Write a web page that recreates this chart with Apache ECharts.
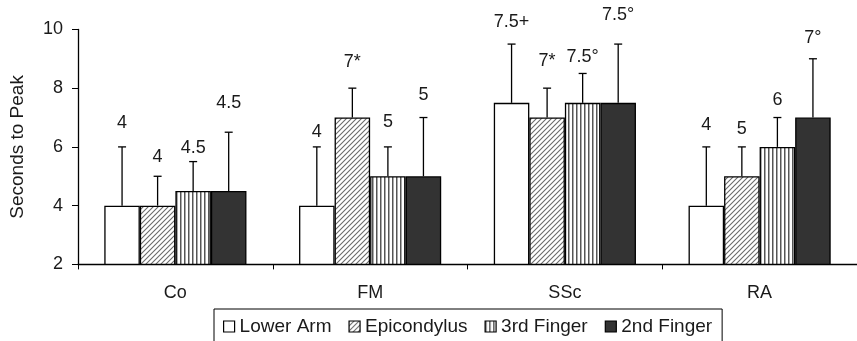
<!DOCTYPE html>
<html><head><meta charset="utf-8">
<script src="https://cdn.jsdelivr.net/npm/echarts@6/dist/echarts.min.js"></script>
<style>html,body{margin:0;padding:0;background:#fff}#c{width:857px;height:341px}</style>
</head><body><div id="c"></div>
<script>
const categories = ['Co', 'FM', 'SSc', 'RA'];
const seriesNames = ['Lower Arm', 'Epicondylus', '3rd Finger', '2nd Finger'];
const lowerArm = [4, 4, 7.5, 4];
const epicondylus = [4, 7, 7, 5];
const thirdFinger = [4.5, 5, 7.5, 6];
const secondFinger = [4.5, 5, 7.5, 7];
const lowerArmErrTop = [6, 6, 9.5, 6];
const epicondylusErrTop = [5, 8, 8, 6];
const thirdFingerErrTop = [5.5, 6, 8.5, 7];
const secondFingerErrTop = [6.5, 7, 9.5, 9];
const lowerArmLabels = ['4', '4', '7.5+', '4'];
const epicondylusLabels = ['4', '7*', '7*', '5'];
const thirdFingerLabels = ['4.5', '5', '7.5°', '6'];
const secondFingerLabels = ['4.5', '5', '7.5°', '7°'];
const lowerArmLabelAt = [6.8, 6.5, 10.25, 6.73];
const epicondylusLabelAt = [5.64, 8.89, 8.94, 6.62];
const thirdFingerLabelAt = [5.95, 6.84, 9.06, 7.58];
const secondFingerLabelAt = [7.48, 7.75, 10.48, 9.69];
const yMin = 2, yMax = 10, yInterval = 2;

const FONT = 'Liberation Sans, Arial, sans-serif';
const GAP = 0.27;
const TXT = '#1a1a1a';

function tile(kind) {
  const c = document.createElement('canvas');
  const g = c.getContext('2d');
  if (kind === 'diag') {
    c.width = 5; c.height = 5;
    g.fillStyle = '#fff'; g.fillRect(0, 0, 5, 5);
    g.strokeStyle = '#6a6a6a'; g.lineWidth = 1.1;
    g.beginPath();
    g.moveTo(-1, 6); g.lineTo(6, -1);
    g.moveTo(-1, 1); g.lineTo(1, -1);
    g.moveTo(4, 6); g.lineTo(6, 4);
    g.stroke();
  } else {
    c.width = 4; c.height = 4;
    g.fillStyle = '#fff'; g.fillRect(0, 0, 4, 4);
    g.fillStyle = '#555'; g.fillRect(0, 0, 1, 4);
    g.fillStyle = '#aaa'; g.fillRect(1, 0, 1, 4);
  }
  return c;
}
const fills = ['#ffffff', { image: tile('diag'), repeat: 'repeat' }, { image: tile('vert'), repeat: 'repeat' }, '#333333'];
const values = [lowerArm, epicondylus, thirdFinger, secondFinger];
const tops = [lowerArmErrTop, epicondylusErrTop, thirdFingerErrTop, secondFingerErrTop];
const texts = [lowerArmLabels, epicondylusLabels, thirdFingerLabels, secondFingerLabels];
const ats = [lowerArmLabelAt, epicondylusLabelAt, thirdFingerLabelAt, secondFingerLabelAt];

const series = [];
seriesNames.forEach((n, s) => {
  series.push({
    type: 'bar', name: n, data: values[s], barGap: '0%', barCategoryGap: (GAP * 100) + '%',
    itemStyle: { color: fills[s], borderColor: '#000', borderWidth: 1.3 }, silent: true, z: 2
  });
});
seriesNames.forEach((n, s) => {
  series.push({
    type: 'custom', name: n + ' err', z: 5, silent: true,
    data: categories.map((c, i) => [i, tops[s][i], ats[s][i], values[s][i]]),
    encode: { x: 0, y: 1 },
    renderItem(params, api) {
      const ci = api.value(0);
      const band = api.size([1, 0])[0];
      const bw = band * (1 - GAP) / 4;
      const cx = api.coord([ci, yMin])[0] + (s - 1.5) * bw;
      const yb = api.coord([ci, api.value(3)])[1];
      const yt = api.coord([ci, api.value(1)])[1];
      const yl = api.coord([ci, api.value(2)])[1];
      const st = { stroke: '#000', lineWidth: 1.3 };
      return { type: 'group', children: [
        { type: 'line', shape: { x1: cx, y1: yb, x2: cx, y2: yt }, style: st },
        { type: 'line', shape: { x1: cx - 4, y1: yt, x2: cx + 4, y2: yt }, style: st },
        { type: 'text', x: cx, y: yl, style: { text: texts[s][params.dataIndex], fill: TXT, font: '18px ' + FONT, align: 'center', verticalAlign: 'middle' } }
      ] };
    }
  });
});

const chart = echarts.init(document.getElementById('c'), null, { renderer: 'canvas' });
chart.setOption({
  animation: false,
  backgroundColor: '#fff',
  textStyle: { fontFamily: FONT },
  grid: { left: 78, top: 29.4, width: 788, height: 235 },
  legend: {
    data: seriesNames, left: 214, top: 309, icon: 'rect', itemWidth: 11, itemHeight: 11, itemGap: 17,
    borderColor: '#000', borderWidth: 1, padding: [8, 10, 30, 9],
    textStyle: { fontSize: 19, color: TXT, fontFamily: FONT },
    itemStyle: { borderColor: '#000', borderWidth: 1.2 }
  },
  xAxis: {
    type: 'category', data: categories,
    axisLine: { lineStyle: { color: '#000', width: 1.3 } },
    axisTick: { show: true, length: 5, lineStyle: { color: '#000' } },
    axisLabel: { fontSize: 18, color: TXT, margin: 20, fontFamily: FONT }
  },
  yAxis: {
    type: 'value', min: yMin, max: yMax, interval: yInterval,
    name: 'Seconds to Peak', nameLocation: 'middle', nameGap: 51,
    nameTextStyle: { fontSize: 19, color: TXT, fontFamily: FONT },
    axisLine: { show: true, lineStyle: { color: '#000', width: 1.3 } },
    axisTick: { show: true, length: 6, lineStyle: { color: '#000' } },
    axisLabel: { fontSize: 18, color: TXT, margin: 15, fontFamily: FONT },
    splitLine: { show: false }
  },
  series
});
</script></body></html>
